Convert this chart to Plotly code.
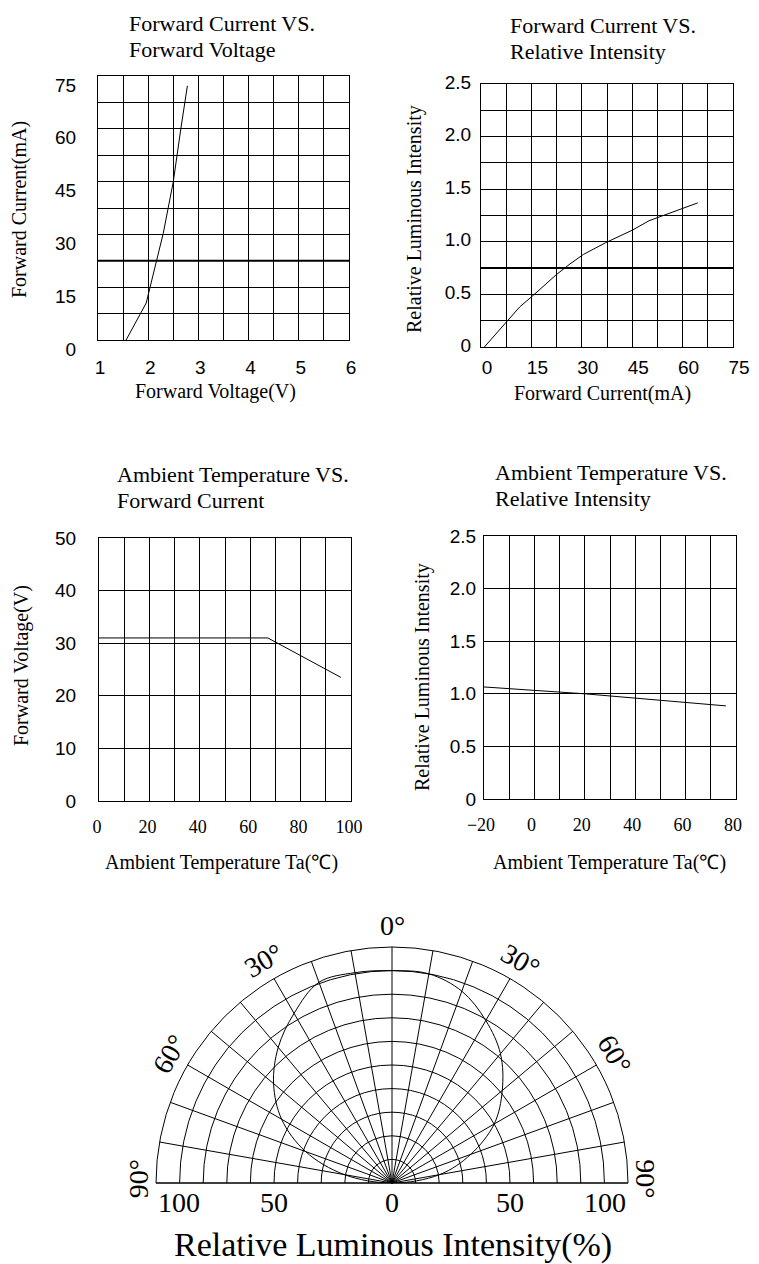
import math
import plotly.graph_objects as go

# page body has an 8px margin: figure is sized/offset so it fills the window
OFF = 8
W, H = 759 - OFF, 1264 - OFF

# ---------------- data ----------------
# Chart 1: Forward Current vs Forward Voltage
fv_voltage = [1.56, 1.96, 2.30, 2.50, 2.65, 2.78]
fv_current = [0, 10.5, 30.3, 45, 60, 72.2]
fv_xticks = [1, 2, 3, 4, 5, 6]
fv_yticks = [0, 15, 30, 45, 60, 75]
fv_emphasis = [22.5]

# Chart 2: Forward Current vs Relative Intensity
ci_current = [1, 8, 11.5, 15.5, 22.5, 26.5, 30.5, 37, 45, 50, 55, 64.5]
ci_intensity = [0, 0.25, 0.38, 0.49, 0.69, 0.79, 0.88, 0.99, 1.11, 1.20, 1.26, 1.37]
ci_xticks = [0, 15, 30, 45, 60, 75]
ci_yticks = [0, 0.5, 1.0, 1.5, 2.0, 2.5]
ci_yticktext = ["0", "0.5", "1.0", "1.5", "2.0", "2.5"]
ci_emphasis = [0.75]

# Chart 3: Ambient Temperature vs Forward Current
tf_temp = [0, 67, 96]
tf_value = [31, 31, 23.5]
tf_xticks = [0, 20, 40, 60, 80, 100]
tf_yticks = [0, 10, 20, 30, 40, 50]

# Chart 4: Ambient Temperature vs Relative Intensity
ti_temp = [-20, 20, 76]
ti_intensity = [1.065, 1.0, 0.885]
ti_xticks = [-20, 0, 20, 40, 60, 80]
ti_xticktext = ["\u221220", "0", "20", "40", "60", "80"]
ti_yticks = [0, 0.5, 1.0, 1.5, 2.0, 2.5]
ti_yticktext = ["0", "0.5", "1.0", "1.5", "2.0", "2.5"]

# Polar: radiation pattern (angle deg, relative intensity %)
pat_angle = [-90, -80, -70, -60, -50, -40, -30, -20, -10, 0,
             10, 20, 30, 40, 50, 60, 70, 80, 90]
pat_value = [0, 20.5, 39, 54, 65.5, 75, 83, 90.5, 90.5, 90,
             90, 86.5, 79.5, 71.5, 61, 50, 35.5, 20.5, 0]
pat_angle_labels = [-90, -60, -30, 0, 30, 60, 90]
pat_radial_labels = [-100, -50, 0, 50, 100]

# ---------------- styling ----------------
SERIF = "Liberation Serif"
SANS = "Liberation Sans"
TICKFONT = dict(family=SANS, size=19, color="black")
SERIFTICK = dict(family=SERIF, size=18, color="black")
LINE = dict(color="black", width=1)


def px_dom_x(a, b):
    return [(a - OFF) / W, (b - OFF) / W]


def px_dom_y(top, bottom):
    return [1 - (bottom - OFF) / H, 1 - (top - OFF) / H]


def axis(domain, rng, tickvals, ticktext, minor_dtick, anchor, font,
         standoff=6, shift=0):
    d = dict(domain=domain, range=rng, tickmode="array", tickvals=tickvals,
             ticktext=ticktext, showgrid=True, gridcolor="black", gridwidth=1,
             showline=True, mirror=True, linecolor="black", linewidth=1,
             ticks="", zeroline=False, anchor=anchor, automargin=False,
             tickfont=font, fixedrange=True, ticklabelstandoff=standoff,
             ticklabelshift=shift)
    if minor_dtick:
        d["minor"] = dict(tickmode="linear", tick0=rng[0], dtick=minor_dtick,
                          showgrid=True, gridcolor="black", gridwidth=1,
                          ticks="")
    return d


fig = go.Figure()

fig.add_trace(go.Scatter(x=fv_voltage, y=fv_current, mode="lines", line=LINE,
                         xaxis="x", yaxis="y", showlegend=False, hoverinfo="skip"))
fig.add_trace(go.Scatter(x=ci_current, y=ci_intensity, mode="lines", line=LINE,
                         xaxis="x2", yaxis="y2", showlegend=False, hoverinfo="skip"))
fig.add_trace(go.Scatter(x=tf_temp, y=tf_value, mode="lines", line=LINE,
                         xaxis="x3", yaxis="y3", showlegend=False, hoverinfo="skip"))
fig.add_trace(go.Scatter(x=ti_temp, y=ti_intensity, mode="lines", line=LINE,
                         xaxis="x4", yaxis="y4", showlegend=False, hoverinfo="skip"))
fig.add_trace(go.Scatterpolar(r=pat_value, theta=pat_angle, mode="lines",
                              line=dict(color="black", width=1, shape="spline"),
                              showlegend=False, hoverinfo="skip"))

layout = dict(
    width=W, height=H, margin=dict(l=0, r=0, t=0, b=0), autosize=False,
    paper_bgcolor="white", plot_bgcolor="white", showlegend=False,
    font=dict(family=SERIF, color="black"),
)

# chart 1
layout["xaxis"] = axis(px_dom_x(98, 349), [1, 6], fv_xticks,
                       [str(v) for v in fv_xticks], 0.5, "y", TICKFONT, 10, 2)
layout["yaxis"] = axis(px_dom_y(76, 340), [0, 75], fv_yticks,
                       [str(v) for v in fv_yticks], 7.5, "x", TICKFONT, 17, 9)
# chart 2
layout["xaxis2"] = axis(px_dom_x(481, 733), [0, 75], ci_xticks,
                        [str(v) for v in ci_xticks], 7.5, "y2", TICKFONT, 3, 6)
layout["yaxis2"] = axis(px_dom_y(84, 347), [0, 2.5], ci_yticks, ci_yticktext,
                        0.25, "x2", TICKFONT, 5, -2)
# chart 3
layout["xaxis3"] = axis(px_dom_x(99, 351), [0, 100], tf_xticks,
                        [str(v) for v in tf_xticks], 10, "y3", SERIFTICK, 9, -2)
layout["yaxis3"] = axis(px_dom_y(538, 801), [0, 50], tf_yticks,
                        [str(v) for v in tf_yticks], None, "x3", TICKFONT, 18, 0)
# chart 4
layout["xaxis4"] = axis(px_dom_x(484, 736), [-20, 80], ti_xticks, ti_xticktext,
                        10, "y4", SERIFTICK, 9, -3)
layout["yaxis4"] = axis(px_dom_y(536, 799), [0, 2.5], ti_yticks, ti_yticktext,
                        None, "x4", TICKFONT, 3, 0)

# polar chart (half disc fills a 2:1 domain)
PCX, PCY, PR = 392, 1183, 236
pdx = px_dom_x(PCX - PR, PCX + PR)
pdy = px_dom_y(PCY - PR, PCY)
layout["polar"] = dict(
    domain=dict(x=pdx, y=pdy), sector=[0, 180], bgcolor="rgba(0,0,0,0)", hole=0,
    radialaxis=dict(range=[0, 100], dtick=10, tick0=0, showgrid=True,
                    gridcolor="black", gridwidth=1, showline=False,
                    showticklabels=False, ticks=""),
    angularaxis=dict(rotation=90, direction="clockwise", dtick=10, tick0=0,
                     showgrid=True, gridcolor="black", gridwidth=1,
                     showline=True, linecolor="black", linewidth=1,
                     showticklabels=False, ticks=""),
)
# helper axis sharing the polar frame: draws the base line
layout["xaxis5"] = dict(domain=pdx, range=[-100, 100], anchor="y5", visible=True,
                        showgrid=False, zeroline=False, showticklabels=False,
                        showline=True, linecolor="black", linewidth=1, ticks="",
                        automargin=False, fixedrange=True)
layout["yaxis5"] = dict(domain=pdy, range=[0, 100], anchor="x5", visible=False,
                        automargin=False, fixedrange=True)

ann = []


def text(x, y, s, size=22, family=SERIF, xanchor="left", angle=0, yanchor="middle"):
    ann.append(dict(x=(x - OFF) / W, y=1 - (y - OFF) / H, xref="paper", yref="paper",
                    text=s, showarrow=False, xanchor=xanchor, yanchor=yanchor,
                    font=dict(family=family, size=size, color="black"),
                    textangle=angle))


# titles (two lines each)
text(127, 9, "Forward Current VS.", yanchor="top")
text(127, 35, "Forward Voltage", yanchor="top")
text(508, 11, "Forward Current VS.", yanchor="top")
text(508, 37, "Relative Intensity", yanchor="top")
text(115, 460, "Ambient Temperature VS.", yanchor="top")
text(115, 486, "Forward Current", yanchor="top")
text(493, 458, "Ambient Temperature VS.", yanchor="top")
text(493, 484, "Relative Intensity", yanchor="top")

# axis titles
AT = 20
text(216, 392, "Forward Voltage(V)", AT, xanchor="center")
text(19, 210, "Forward Current(mA)", AT, xanchor="center", angle=-90)
text(602, 393, "Forward Current(mA)", AT, xanchor="center")
text(415, 219, "Relative Luminous Intensity", AT, xanchor="center", angle=-90)
text(222, 862, "Ambient Temperature Ta(\u2103)", AT, xanchor="center")
text(21, 666, "Forward Voltage(V)", AT, xanchor="center", angle=-90)
text(609, 862, "Ambient Temperature Ta(\u2103)", AT, xanchor="center")
text(422, 677, "Relative Luminous Intensity", AT, xanchor="center", angle=-90)
text(393, 1245, "Relative Luminous Intensity(%)", 34, xanchor="center")

# polar angle labels around the rim
for a in pat_angle_labels:
    rl = 1.075 if abs(a) == 90 else 1.09
    px = PCX + rl * PR * math.sin(math.radians(a))
    py = PCY - rl * PR * math.cos(math.radians(a))
    text(px, py - (4 if abs(a) == 90 else 0), f"{abs(a)}\u00b0", 28,
         xanchor="center", angle=a)
# polar radial labels under the base line
for v in pat_radial_labels:
    xa = "left" if v == min(pat_radial_labels) else ("right" if v == max(pat_radial_labels) else "center")
    text(PCX + v / 100 * PR, PCY + 19, str(abs(v)), 28, xanchor=xa)

layout["annotations"] = ann

shapes = []
for v in fv_emphasis:
    shapes.append(dict(type="line", xref="x domain", yref="y", x0=0, x1=1, y0=v, y1=v,
                       line=dict(color="black", width=2)))
for v in ci_emphasis:
    shapes.append(dict(type="line", xref="x2 domain", yref="y2", x0=0, x1=1, y0=v, y1=v,
                       line=dict(color="black", width=2)))
layout["shapes"] = shapes

fig.update_layout(layout)
fig.write_html("out.html")
